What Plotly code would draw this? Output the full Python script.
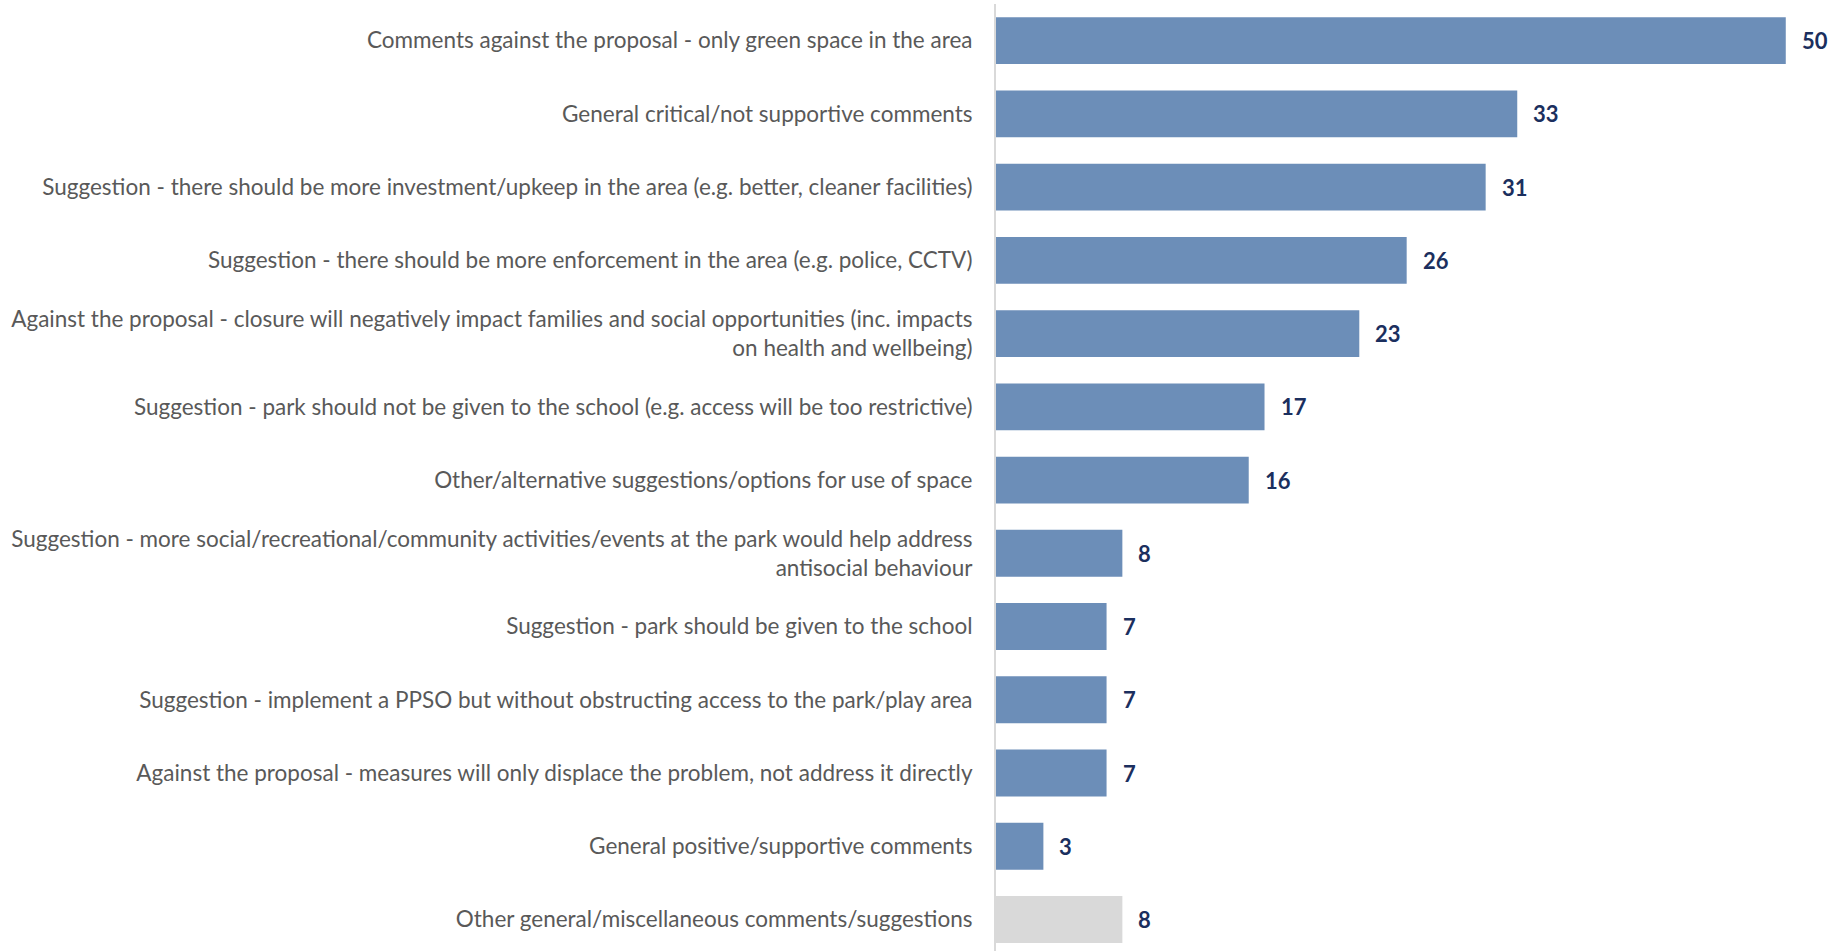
import plotly.graph_objects as go

# Response themes (top to bottom) and number of comments
categories = [
    "Comments against the proposal - only green space in the area",
    "General critical/not supportive comments",
    "Suggestion - there should be more investment/upkeep in the area (e.g. better, cleaner facilities)",
    "Suggestion - there should be more enforcement in the area (e.g. police, CCTV)",
    "Against the proposal - closure will negatively impact families and social opportunities (inc. impacts<br>on health and wellbeing)",
    "Suggestion - park should not be given to the school (e.g. access will be too restrictive)",
    "Other/alternative suggestions/options for use of space",
    "Suggestion - more social/recreational/community activities/events at the park would help address<br>antisocial behaviour",
    "Suggestion - park should be given to the school",
    "Suggestion - implement a PPSO but without obstructing access to the park/play area",
    "Against the proposal - measures will only displace the problem, not address it directly",
    "General positive/supportive comments",
    "Other general/miscellaneous comments/suggestions",
]
counts = [50, 33, 31, 26, 23, 17, 16, 8, 7, 7, 7, 3, 8]
is_misc = [False] * 12 + [True]

BLUE = "#6C8EB8"
GREY = "#D9D9D9"
bar_colors = [GREY if m else BLUE for m in is_misc]

fig = go.Figure(
    go.Bar(
        x=counts,
        y=categories,
        orientation="h",
        marker=dict(color=bar_colors, line=dict(width=0)),
        width=0.64,
        hoverinfo="x+y",
    )
)

# Value labels to the right of each bar
for cat, val in zip(categories, counts):
    fig.add_annotation(
        x=val, y=cat, xref="x", yref="y",
        text=f"<b>{val}</b>", showarrow=False,
        xanchor="left", yanchor="middle", xshift=14,
        font=dict(family="Lato", size=22, color="#1B2F5E"),
    )

fig.update_layout(
    width=1830, height=951,
    margin=dict(l=996, r=0, t=4, b=0),
    paper_bgcolor="white", plot_bgcolor="white",
    showlegend=False,
    font=dict(family="Lato", size=22.5, color="#595959"),
)
fig.update_xaxes(
    range=[0, 52.8], visible=False, showgrid=False, zeroline=False,
)
fig.update_yaxes(
    range=[12.43, -0.5], showgrid=False, zeroline=False,
    showline=True, linecolor="#D9D9D9", linewidth=2,
    ticks="", ticklabelstandoff=17,
    tickfont=dict(family="Lato", size=22.5, color="#595959"),
)

fig.write_html("out.html")
